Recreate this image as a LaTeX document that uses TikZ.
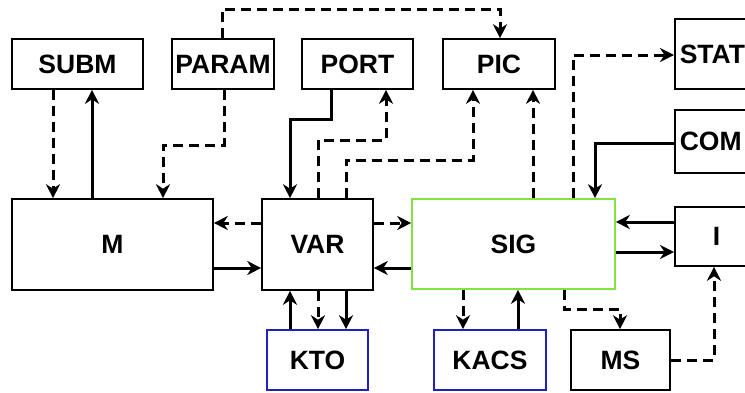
\documentclass[tikz,border=0pt]{standalone}
\usepackage{fontspec}
\setmainfont{Liberation Sans}
\usetikzlibrary{arrows.meta,positioning}

\definecolor{siggreen}{RGB}{128,228,64}
\definecolor{kblue}{RGB}{32,32,190}

\tikzset{
  box/.style={draw, line width=1.6pt, inner sep=0pt, font=\bfseries\fontsize{26.5}{30}\selectfont},
  edgebox/.style={box, anchor=west, inner xsep=5pt, text width=140pt},
  solarr/.style={line width=3pt, -{Stealth[length=14pt,width=14pt,inset=4.5pt]}},
  dasharr/.style={line width=3pt, dash pattern=on 10pt off 6pt, -{Stealth[length=14pt,width=14pt,inset=4.5pt]}}
}

\begin{document}
\begin{tikzpicture}[x=1pt,y=-1pt]
  \useasboundingbox (0,0) rectangle (745,392);

  % top row
  \node[box, minimum width=131, minimum height=50] (subm) at (77.5,64) {SUBM};
  \node[box, minimum width=102, minimum height=50] (param) at (223,64) {PARAM};
  \node[box, minimum width=111, minimum height=50] (port) at (357.5,64) {PORT};
  \node[box, minimum width=112, minimum height=50] (pic) at (499,64) {PIC};

  % right column, cut by the border
  \node[edgebox, align=left, minimum height=70] (stat) at (674,54) {STAT};
  \node[edgebox, align=left, minimum height=63] (com) at (674,141.5) {COM};
  \node[edgebox, align=left, minimum height=59] (i) at (674,236.5) {\hspace*{33pt}I};

  % middle row
  \node[box, minimum width=201, minimum height=91] (m) at (112.5,244.5) {M};
  \node[box, minimum width=111, minimum height=91] (var) at (317.5,244.5) {VAR};
  \node[box, draw=siggreen, minimum width=203, minimum height=90] (sig) at (513.5,244) {SIG};

  % bottom row
  \node[box, draw=kblue, minimum width=101, minimum height=60] (kto) at (317.5,360) {KTO};
  \node[box, draw=kblue, minimum width=112, minimum height=60] (kacs) at (490,360) {KACS};
  \node[box, minimum width=99, minimum height=60] (ms) at (620.5,360) {MS};

  % SUBM / PARAM to M
  \draw[dasharr] (53,0 |- subm.south) -- (53,0 |- m.north);
  \draw[solarr] (92,0 |- m.north) -- (92,0 |- subm.south);
  \draw[dasharr] (224,0 |- param.south) |- (163,145) -- (163,0 |- m.north);
  \draw[dasharr] (222,0 |- param.north) -- (222,9) -| (500,0 |- pic.north);

  % VAR with PORT and PIC
  \draw[solarr] (331,0 |- port.south) |- (290,119) -- (290,0 |- var.north);
  \draw[dasharr] (318,0 |- var.north) |- (386,140) -- (386,0 |- port.south);
  \draw[dasharr] (346,0 |- var.north) |- (473,160) -- (473,0 |- pic.south);

  % SIG upwards
  \draw[dasharr] (533,0 |- sig.north) -- (533,0 |- pic.south);
  \draw[dasharr] (573,0 |- sig.north) |- (stat.west |- 0,55);
  \draw[solarr] (com.west |- 0,143) -| (595,0 |- sig.north);

  % horizontal links
  \draw[dasharr] (var.west |- 0,223) -- (m.east |- 0,223);
  \draw[solarr] (m.east |- 0,268) -- (var.west |- 0,268);
  \draw[dasharr] (var.east |- 0,223) -- (sig.west |- 0,223);
  \draw[solarr] (sig.west |- 0,268) -- (var.east |- 0,268);
  \draw[solarr] (i.west |- 0,222) -- (sig.east |- 0,222);
  \draw[solarr] (sig.east |- 0,252) -- (i.west |- 0,252);

  % bottom links
  \draw[solarr] (290,0 |- kto.north) -- (290,0 |- var.south);
  \draw[dasharr] (318,0 |- var.south) -- (318,0 |- kto.north);
  \draw[solarr] (346,0 |- var.south) -- (346,0 |- kto.north);
  \draw[dasharr] (463,0 |- sig.south) -- (463,0 |- kacs.north);
  \draw[solarr] (518,0 |- kacs.north) -- (518,0 |- sig.south);
  \draw[dasharr] (564,0 |- sig.south) |- (620,309) -- (620,0 |- ms.north);
  \draw[dasharr] (ms.east |- 0,360) -| (714,0 |- i.south);
\end{tikzpicture}
\end{document}
